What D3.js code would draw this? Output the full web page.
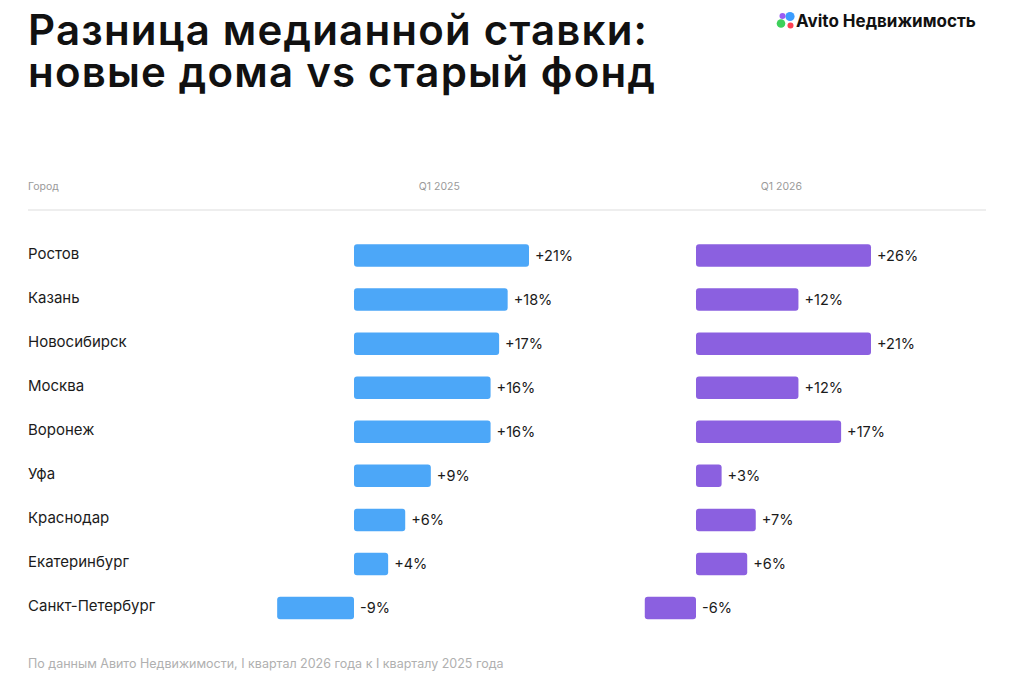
<!DOCTYPE html>
<html>
<head>
<meta charset="utf-8">
<script src="https://cdn.jsdelivr.net/npm/d3@7"></script>
<style>
  body { margin: 0; background: #fff; }
  svg { display: block; font-family: Inter, "Noto Sans", sans-serif; }
</style>
</head>
<body>
<svg width="1024" height="689"></svg>
<script>
// Data
var cities = ["Ростов", "Казань", "Новосибирск", "Москва", "Воронеж", "Уфа", "Краснодар", "Екатеринбург", "Санкт-Петербург"];
var q2025 = [21, 18, 17, 16, 16, 9, 6, 4, -9];
var q2026 = [26, 12, 21, 12, 17, 3, 7, 6, -6];
var columns = ["Город", "Q1 2025", "Q1 2026"];
var titleLines = ["Разница медианной ставки:", "новые дома vs старый фонд"];
var source = "По данным Авито Недвижимости, I квартал 2026 года к I кварталу 2025 года";

var svg = d3.select("svg"),
	width = +svg.attr("width"),
	height = +svg.attr("height");

var blue = "#4ca7f8",
	purple = "#8b60e0",
	ink = "#1b1b1b";

// Title
svg.append("g")
	.selectAll("text")
	.data(titleLines)
	.enter().append("text")
	.attr("x", 28)
	.attr("y", (d, i) => 45 + i * 42)
	.attr("font-size", 42)
	.attr("font-weight", 600)
	.attr("letter-spacing", "1.2")
	.attr("fill", "#111")
	.text((d) => d);

// Logo
var logo = svg.append("g").attr("class", "logo");
var dots = [
	{ x: 781, y: 23.5, r: 4.3, c: "#3ed05b" },
	{ x: 790, y: 16.5, r: 4.6, c: "#3b9dff" },
	{ x: 782.5, y: 16, r: 3, c: "#9a5cf3" },
	{ x: 790.5, y: 25.5, r: 3, c: "#ff4053" }
];
logo.selectAll("circle")
	.data(dots)
	.enter().append("circle")
	.attr("cx", (d) => d.x)
	.attr("cy", (d) => d.y)
	.attr("r", (d) => d.r)
	.attr("fill", (d) => d.c);
logo.append("text")
	.attr("x", 796)
	.attr("y", 27)
	.attr("font-size", 17)
	.attr("font-weight", 700)
	.attr("fill", "#111")
	.text("Avito Недвижимость");

// Scales
var y = d3.scalePoint()
	.domain(cities)
	.range([255.5, 608]);

var barH = 22.5;

// shared value scale, bars are capped at the column width
var xLeft = d3.scaleLinear().domain([-20.5, 20.5]).range([354 - 175, 354 + 175]).clamp(true);
var xRight = d3.scaleLinear().domain([-20.5, 20.5]).range([696 - 175, 696 + 175]).clamp(true);

// Header
var headerX = [28, xLeft(10), xRight(10)];
svg.append("g")
	.selectAll("text")
	.data(columns)
	.enter().append("text")
	.attr("x", (d, i) => headerX[i])
	.attr("y", 190)
	.attr("text-anchor", (d, i) => i == 0 ? "start" : "middle")
	.attr("font-size", 10.5)
	.attr("fill", "#9a9a9a")
	.text((d) => d);

svg.append("line")
	.attr("x1", 28)
	.attr("x2", 986)
	.attr("y1", 210)
	.attr("y2", 210)
	.attr("stroke", "#e9e9e9")
	.attr("stroke-width", 1.5);

// City labels
svg.append("g")
	.selectAll("text")
	.data(cities)
	.enter().append("text")
	.attr("x", 28)
	.attr("y", (d) => y(d) + 3)
	.attr("font-size", 15)
	.attr("fill", ink)
	.text((d) => d);

// Bars
function drawColumn(values, x, color) {
	var rows = cities.map((c, i) => ({ city: c, value: values[i] }));
	var g = svg.append("g");

	g.selectAll("rect")
		.data(rows)
		.enter().append("rect")
		.attr("x", (d) => Math.min(x(0), x(d.value)))
		.attr("y", (d) => y(d.city) - barH / 2)
		.attr("width", (d) => Math.abs(x(d.value) - x(0)))
		.attr("height", barH)
		.attr("rx", 3)
		.attr("fill", color);

	g.selectAll("text")
		.data(rows)
		.enter().append("text")
		.attr("x", (d) => Math.max(x(0), x(d.value)) + 6)
		.attr("y", (d) => y(d.city))
		.attr("dy", "0.36em")
		.attr("font-size", 14.5)
		.attr("fill", ink)
		.text((d) => (d.value > 0 ? "+" : "") + d.value + "%");
}

drawColumn(q2025, xLeft, blue);
drawColumn(q2026, xRight, purple);

// Source
svg.append("text")
	.attr("x", 28)
	.attr("y", 668)
	.attr("font-size", 12.5)
	.attr("fill", "#b0b0b0")
	.text(source);
</script>
</body>
</html>
